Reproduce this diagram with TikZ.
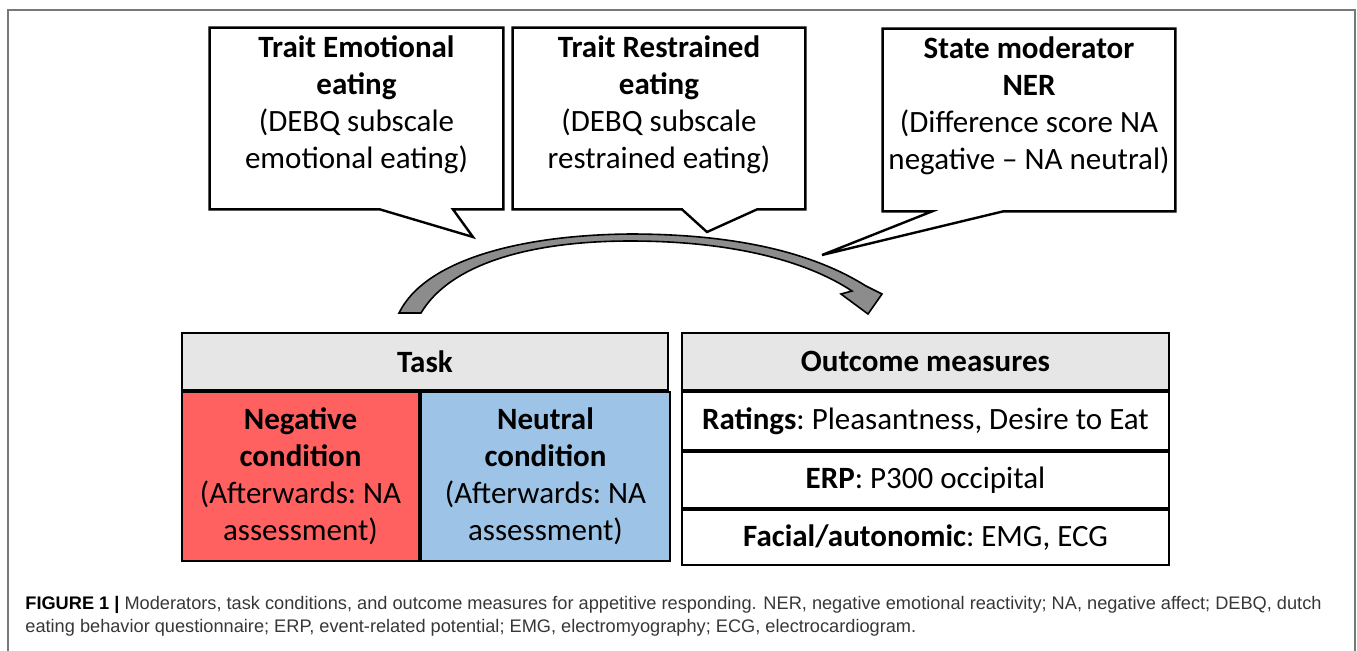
\documentclass[tikz,border=0pt]{standalone}
\usepackage{fontspec}
\setmainfont{Carlito}
\newfontfamily\capfont{Liberation Sans}
\usetikzlibrary{positioning,calc}
\definecolor{negred}{RGB}{255,97,97}
\definecolor{neublue}{RGB}{157,195,230}
\definecolor{headgray}{RGB}{231,230,230}
\definecolor{arrowgray}{RGB}{140,140,140}
\definecolor{framegray}{RGB}{120,120,120}
\definecolor{captext}{RGB}{55,55,55}
\tikzset{
	bubble/.style={draw=none, inner sep=0pt},
	bubbleline/.style={draw=black, line width=1.2pt, fill=white, line join=miter},
	bubbletext/.style={align=center, inner sep=0pt,
		font=\fontsize{15.5}{18.5}\selectfont\frenchspacing},
	cell/.style={draw=black, line width=1pt, inner sep=0pt, align=center,
		font=\fontsize{15.5}{18.5}\selectfont\frenchspacing},
	curvearrow/.style={draw=black, line width=0.8pt, fill=arrowgray, line join=miter}
}

\begin{document}
\begin{tikzpicture}[x=0.5pt, y=-0.5pt]
	\useasboundingbox (0,0) rectangle (1357,650);
	
	%% -- outer frame
	\draw[framegray, line width=1pt] (8,652) -- (8,10) -- (1355,10) -- (1355,652);
	
	%% -- moderator bubbles
	\node[bubble, minimum width=146.5pt, minimum height=90.5pt] (emo) at (356.5,118.5) {};
	\node[bubble, minimum width=146pt, minimum height=90.5pt] (res) at (659,118.5) {};
	\node[bubble, minimum width=146pt, minimum height=91pt] (ner) at (1029,120) {};
	
	\coordinate (emotip) at (473,237);
	\coordinate (restip) at (707,232);
	\coordinate (nertip) at (822,255);
	
	\draw[bubbleline] (emo.south west) -- (emo.north west) -- (emo.north east)
	-- (emo.south east) -- ([xshift=48.25pt]emo.south) -- (emotip)
	-- ([xshift=11.75pt]emo.south) -- cycle;
	\draw[bubbleline] (res.south west) -- (res.north west) -- (res.north east)
	-- (res.south east) -- ([xshift=49pt]res.south) -- (restip)
	-- ([xshift=11.5pt]res.south) -- cycle;
	\draw[bubbleline] (ner.south west) -- (ner.north west) -- (ner.north east)
	-- (ner.south east) -- ([xshift=-13pt]ner.south) -- (nertip)
	-- ([xshift=-48.5pt]ner.south) -- cycle;
	
	\node[bubbletext, below=4pt of emo.north] (emotext)
	{\textbf{Trait Emotional}\\\textbf{eating}\\(DEBQ subscale\\emotional eating)};
	\node[bubbletext, below=4pt of res.north] (restext)
	{\textbf{Trait Restrained}\\\textbf{eating}\\(DEBQ subscale\\restrained eating)};
	\node[bubbletext, below=4pt of ner.north] (nertext)
	{\textbf{State moderator}\\\textbf{NER}\\(Difference score NA\\negative -- NA neutral)};
	
	%% -- curved arrow from task to outcomes
	\draw[curvearrow] (399,313) .. controls (425,260) and (520,235) .. (630,234)
	.. controls (740,234) and (815,254) .. (866,286)
	-- (882,294) -- (868,314) -- (841,294) -- (852,291)
	.. controls (805,260) and (730,241) .. (630,241)
	.. controls (530,241) and (450,264) .. (421,313) -- cycle;
	
	%% -- task table
	\node[cell, fill=headgray, minimum width=243pt, minimum height=28.5pt,
	font=\fontsize{15.5}{18.5}\selectfont\bfseries] (task) at (425,361.5) {Task};
	\node[cell, fill=negred, minimum width=118.5pt, minimum height=84.5pt,
	anchor=north west] (neg) at (task.south west)
	{\textbf{Negative}\\\textbf{condition}\\(Afterwards: NA\\assessment)};
	\node[cell, fill=neublue, minimum width=124.5pt, minimum height=84.5pt,
	anchor=north west] (neu) at (neg.north east)
	{\textbf{Neutral}\\\textbf{condition}\\(Afterwards: NA\\assessment)};
	
	%% -- outcome table
	\node[cell, fill=headgray, minimum width=243.5pt, minimum height=28.5pt,
	font=\fontsize{15.5}{18.5}\selectfont\bfseries] (outc) at (925.5,361.5) {Outcome measures};
	\node[cell, minimum width=243.5pt, minimum height=29pt,
	below=0pt of outc] (rate) {\textbf{Ratings}: Pleasantness, Desire to Eat};
	\node[cell, minimum width=243.5pt, minimum height=28pt,
	below=0pt of rate] (erp) {\textbf{ERP}: P300 occipital};
	\node[cell, minimum width=243.5pt, minimum height=27.5pt,
	below=0pt of erp] (facial) {\textbf{Facial/autonomic}: EMG, ECG};
	
	%% -- caption
	\node[anchor=north west, align=left, inner sep=0pt, text=captext,
	font=\capfont\fontsize{9.1}{11.5}\selectfont] (caption) at (25,596)
	{\textcolor{black}{\textbf{FIGURE 1 |}} Moderators, task conditions, and outcome measures for appetitive responding. NER, negative emotional reactivity; NA, negative affect; DEBQ, dutch\\
		eating behavior questionnaire; ERP, event-related potential; EMG, electromyography; ECG, electrocardiogram.};
	
\end{tikzpicture}
\end{document}
